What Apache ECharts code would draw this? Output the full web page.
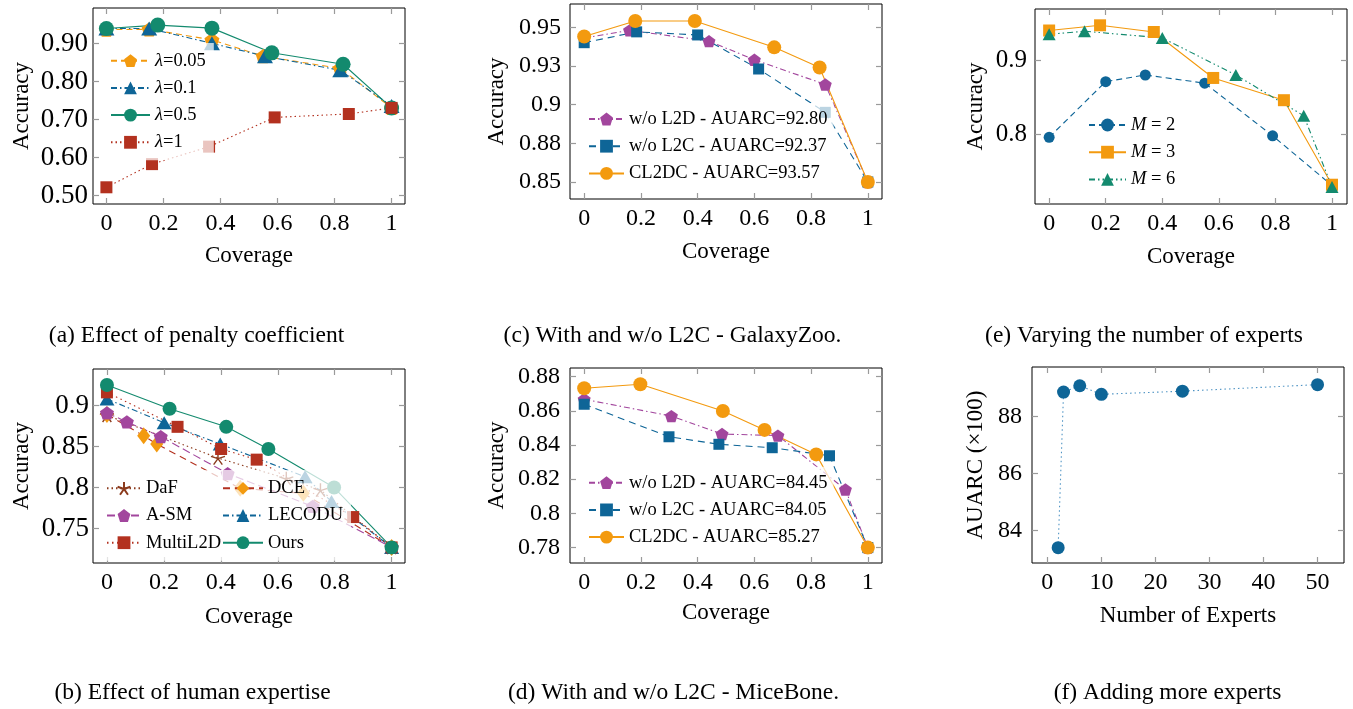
<!DOCTYPE html>
<html>
<head>
<meta charset="utf-8">
<script src="https://cdn.jsdelivr.net/npm/echarts@6/dist/echarts.min.js"></script>
<style>
  html, body { margin: 0; background: #fff; }
  #fig { width: 1353px; height: 709px; }
</style>
</head>
<body>
<div id="fig"></div>
<script>
// ---- data ----
const covTicks = [0, 0.2, 0.4, 0.6, 0.8, 1];

// (a) penalty coefficient
const covLam005 = [0, 0.15, 0.37, 0.55, 0.82, 1];
const accLam005 = [0.937, 0.938, 0.910, 0.867, 0.835, 0.731];
const covLam01 = [0, 0.15, 0.37, 0.556, 0.82, 1];
const accLam01 = [0.940, 0.940, 0.901, 0.867, 0.830, 0.736];
const covLam05 = [0, 0.18, 0.37, 0.58, 0.83, 1];
const accLam05 = [0.940, 0.949, 0.941, 0.876, 0.846, 0.731];
const covLam1 = [0, 0.16, 0.36, 0.59, 0.85, 1];
const accLam1 = [0.522, 0.583, 0.629, 0.706, 0.715, 0.731];
const aYTicks = [0.5, 0.6, 0.7, 0.8, 0.9];
const aYLabels = ['0.50', '0.60', '0.70', '0.80', '0.90'];

// (c) GalaxyZoo
const covGzL2D = [0, 0.16, 0.44, 0.60, 0.85, 1];
const accGzL2D = [0.943, 0.948, 0.941, 0.929, 0.913, 0.850];
const covGzL2C = [0, 0.185, 0.40, 0.615, 0.85, 1];
const accGzL2C = [0.940, 0.947, 0.945, 0.923, 0.895, 0.850];
const covGzOurs = [0, 0.18, 0.39, 0.67, 0.83, 1];
const accGzOurs = [0.944, 0.954, 0.954, 0.937, 0.924, 0.850];
const cYTicks = [0.85, 0.875, 0.9, 0.925, 0.95];
const cYLabels = ['0.85', '0.88', '0.9', '0.93', '0.95'];

// (e) number of experts M
const covM2 = [0, 0.2, 0.34, 0.55, 0.79, 1];
const accM2 = [0.796, 0.871, 0.880, 0.869, 0.798, 0.731];
const covM3 = [0, 0.18, 0.37, 0.58, 0.83, 1];
const accM3 = [0.940, 0.947, 0.938, 0.876, 0.846, 0.732];
const covM6 = [0, 0.125, 0.40, 0.66, 0.90, 1];
const accM6 = [0.935, 0.939, 0.930, 0.880, 0.825, 0.729];
const eYTicks = [0.8, 0.9];
const eYLabels = ['0.8', '0.9'];

// (b) human expertise
const covDaF = [0, 0.39, 0.63, 0.75, 1];
const accDaF = [0.888, 0.836, 0.811, 0.797, 0.727];
const covDCE = [0, 0.129, 0.175, 0.468, 0.69, 1];
const accDCE = [0.889, 0.863, 0.853, 0.799, 0.793, 0.727];
const covASM = [0, 0.07, 0.189, 0.424, 0.723, 1];
const accASM = [0.891, 0.880, 0.862, 0.817, 0.777, 0.727];
const covLECODU = [0, 0.201, 0.398, 0.696, 0.789, 1];
const accLECODU = [0.908, 0.879, 0.853, 0.813, 0.783, 0.727];
const covMultiL2D = [0, 0.248, 0.401, 0.526, 0.865, 1];
const accMultiL2D = [0.916, 0.874, 0.847, 0.834, 0.764, 0.727];
const covOurs = [0, 0.22, 0.419, 0.567, 0.798, 1];
const accOurs = [0.925, 0.896, 0.874, 0.847, 0.800, 0.727];
const bYTicks = [0.75, 0.8, 0.85, 0.9];
const bYLabels = ['0.75', '0.8', '0.85', '0.9'];

// (d) MiceBone
const covMbL2D = [0, 0.3075, 0.486, 0.683, 0.921, 1];
const accMbL2D = [0.8667, 0.8569, 0.8464, 0.8455, 0.814, 0.780];
const covMbL2C = [0, 0.299, 0.475, 0.663, 0.865, 1];
const accMbL2C = [0.8638, 0.8448, 0.8404, 0.8384, 0.8337, 0.780];
const covMbOurs = [0, 0.198, 0.489, 0.636, 0.818, 1];
const accMbOurs = [0.8732, 0.8755, 0.8599, 0.8488, 0.8345, 0.780];
const dYTicks = [0.78, 0.8, 0.82, 0.84, 0.86, 0.88];
const dYLabels = ['0.78', '0.8', '0.82', '0.84', '0.86', '0.88'];

// (f) adding more experts
const numExperts = [2, 3, 6, 10, 25, 50];
const auarcExperts = [83.39, 88.86, 89.08, 88.78, 88.89, 89.12];
const fXTicks = [0, 10, 20, 30, 40, 50];
const fYTicks = [84, 86, 88];
const fYLabels = ['84', '86', '88'];

// ---- styling ----
const SERIF = '"Liberation Serif", "Times New Roman", serif';
const ORANGE = '#f39a0f', BLUE = '#0e6597', GREEN = '#138a6e',
      PURPLE = '#a2469d', RED = '#b3311f', BROWN = '#8b3a1c';
const PENTAGON = 'path://M0,-10L9.51,-3.09L5.88,8.09L-5.88,8.09L-9.51,-3.09Z';
const ASTER = 'path://M0,-10L0,0M9.5,-3.1L0,0M5.9,8.1L0,0M-5.9,8.1L0,0M-9.5,-3.1L0,0';
const DASHED = [6, 4], DASHDOT = [6, 3, 1.5, 3], DDOT = [6, 3, 1.5, 3, 1.5, 3], DOTTED = [1.5, 3];
const FADE = 'rgba(255,255,255,0.72)';

const grids = [], xAxes = [], yAxes = [], series = [], legends = [], graphics = [];

function addPanel(p) {
  const gi = grids.length;
  grids.push({ left: p.box[0], top: p.box[1], width: p.box[2], height: p.box[3],
    outerBoundsMode: 'none', containLabel: false,
    show: true, borderColor: '#000', borderWidth: 1, backgroundColor: 'transparent' });
  const tick = { show: true, inside: true, length: 6, lineStyle: { color: '#9a9a9a', width: 1.2 } };
  const xi = xAxes.length, yi = yAxes.length;
  // onZero off: every axis stays on its own edge of the box
  const xb = { type: 'value', gridIndex: gi, min: p.xr[0], max: p.xr[1],
    axisLine: { show: false, onZero: false }, splitLine: { show: false } };
  const yb = { type: 'value', gridIndex: gi, min: p.yr[0], max: p.yr[1],
    axisLine: { show: false, onZero: false }, splitLine: { show: false } };
  const lab = { fontFamily: SERIF, color: '#000' };
  const ghost = { fontSize: 6, color: 'rgba(0,0,0,0)' };
  const nm = { fontFamily: SERIF, fontSize: 23, color: '#000' };
  xAxes.push({ ...xb, position: 'bottom', name: p.xName, nameLocation: 'middle', nameGap: p.xGap,
    nameTextStyle: nm, axisTick: { ...tick, customValues: p.xTicks },
    axisLabel: { ...lab, fontSize: 24, customValues: p.xTicks, margin: 8, formatter: v => String(v) } });
  // mirrored axes: only the inside ticks on the top and right edges
  xAxes.push({ ...xb, position: 'top', axisTick: { ...tick, customValues: p.xTicks },
    axisLabel: { ...ghost, customValues: p.xTicks } });
  yAxes.push({ ...yb, position: 'left', name: p.yName, nameLocation: 'middle', nameGap: p.yGap, nameRotate: 90,
    nameTextStyle: nm, axisTick: { ...tick, customValues: p.yTicks },
    axisLabel: { ...lab, fontSize: p.yFont, customValues: p.yTicks, margin: p.yMargin,
      formatter: v => p.yLabels[p.yTicks.findIndex(t => Math.abs(t - v) < 1e-9)] } });
  yAxes.push({ ...yb, position: 'right', axisTick: { ...tick, customValues: p.yTicks },
    axisLabel: { ...ghost, customValues: p.yTicks } });
  return { x: xi, y: yi };
}

function addLine(ax, name, xs, ys, o) {
  series.push({
    type: 'line', name, xAxisIndex: ax.x, yAxisIndex: ax.y,
    data: xs.map((x, i) => [x, ys[i]]),
    symbol: o.symbol, symbolSize: o.size, symbolKeepAspect: true,
    lineStyle: { color: o.line || o.color, width: 1.1, type: o.dash || 'solid' },
    itemStyle: o.stroke
      ? { color: 'transparent', borderColor: o.color, borderWidth: 1.4 }
      : { color: o.color },
    animation: false, silent: true
  });
}

// legend box (left/top) includes padding; its white fill fades marks behind it
function addLegend(names, left, top, padding, itemWidth, fmt) {
  legends.push({ data: names, orient: 'vertical', left, top, itemWidth, itemHeight: 16,
    itemGap: 7.2, padding, selectedMode: false, backgroundColor: FADE,
    textStyle: { fontFamily: SERIF, fontSize: 18.5, color: '#000', lineHeight: 20,
      rich: { i: { fontFamily: SERIF, fontSize: 18.5, fontStyle: 'italic', color: '#000' } } },
    formatter: fmt });
}

function caption(text, x, y) {
  graphics.push({ type: 'text', z: 5, x, y,
    style: { text, fill: '#000', font: '23.5px ' + SERIF, align: 'center', verticalAlign: 'middle' } });
}

// (a)
const pa = addPanel({ box: [93, 8, 312, 196], xr: [-0.047, 1.047], yr: [0.478, 0.994],
  xTicks: covTicks, yTicks: aYTicks, yLabels: aYLabels, xName: 'Coverage', yName: 'Accuracy',
  xGap: 40, yGap: 60, yMargin: 5, yFont: 27 });
addLine(pa, 'λ=0.05', covLam005, accLam005, { color: ORANGE, dash: DASHED, symbol: PENTAGON, size: 15 });
addLine(pa, 'λ=0.1', covLam01, accLam01, { color: BLUE, dash: DASHDOT, symbol: 'triangle', size: [16, 14] });
addLine(pa, 'λ=0.5', covLam05, accLam05, { color: GREEN, symbol: 'circle', size: 15 });
addLine(pa, 'λ=1', covLam1, accLam1, { color: RED, dash: DOTTED, symbol: 'rect', size: 12 });
addLegend(['λ=0.05', 'λ=0.1', 'λ=0.5', 'λ=1'], 104, 43, [7.7, 8, 8, 6], 39, n => '{i|λ}' + n.slice(1));

// (c)
const pc = addPanel({ box: [570, 4, 312, 195], xr: [-0.05, 1.05], yr: [0.839, 0.965],
  xTicks: covTicks, yTicks: cYTicks, yLabels: cYLabels, xName: 'Coverage', yName: 'Accuracy',
  xGap: 41, yGap: 62, yMargin: 9, yFont: 24 });
addLine(pc, 'w/o L2D - AUARC=92.80', covGzL2D, accGzL2D, { color: PURPLE, dash: DASHDOT, symbol: PENTAGON, size: 13 });
addLine(pc, 'w/o L2C - AUARC=92.37', covGzL2C, accGzL2C, { color: BLUE, dash: [7, 5], symbol: 'rect', size: 11 });
addLine(pc, 'CL2DC - AUARC=93.57', covGzOurs, accGzOurs, { color: ORANGE, symbol: 'circle', size: 14 });
addLegend(['w/o L2D - AUARC=92.80', 'w/o L2C - AUARC=92.37', 'CL2DC - AUARC=93.57'], 582, 103, [6, 6, 6, 6], 35);

// (e)
const pe = addPanel({ box: [1035, 9, 312, 195], xr: [-0.05, 1.053], yr: [0.706, 0.969],
  xTicks: covTicks, yTicks: eYTicks, yLabels: eYLabels, xName: 'Coverage', yName: 'Accuracy',
  xGap: 41, yGap: 48, yMargin: 8, yFont: 25 });
addLine(pe, 'M = 2', covM2, accM2, { color: BLUE, dash: DASHED, symbol: 'circle', size: 11 });
addLine(pe, 'M = 3', covM3, accM3, { color: ORANGE, symbol: 'rect', size: 12 });
addLine(pe, 'M = 6', covM6, accM6, { color: GREEN, dash: DDOT, symbol: 'triangle', size: [13, 12] });
addLegend(['M = 2', 'M = 3', 'M = 6'], 1082, 109, [6, 8, 6, 6], 37, n => '{i|M} = ' + n.slice(-1));

// (b)
const pb = addPanel({ box: [93, 369, 312, 194], xr: [-0.049, 1.047], yr: [0.708, 0.9445],
  xTicks: covTicks, yTicks: bYTicks, yLabels: bYLabels, xName: 'Coverage', yName: 'Accuracy',
  xGap: 42, yGap: 60, yMargin: 4, yFont: 27 });
addLine(pb, 'DaF', covDaF, accDaF, { color: BROWN, dash: DOTTED, symbol: ASTER, size: 14, stroke: true });
addLine(pb, 'DCE', covDCE, accDCE, { color: ORANGE, line: RED, dash: [7, 5], symbol: 'diamond', size: [13, 17] });
addLine(pb, 'A-SM', covASM, accASM, { color: PURPLE, dash: [8, 4], symbol: PENTAGON, size: 14 });
addLine(pb, 'LECODU', covLECODU, accLECODU, { color: BLUE, dash: DASHDOT, symbol: 'triangle', size: [15, 13] });
addLine(pb, 'MultiL2D', covMultiL2D, accMultiL2D, { color: RED, dash: [1.5, 3.5], symbol: 'rect', size: 12 });
addLine(pb, 'Ours', covOurs, accOurs, { color: GREEN, symbol: 'circle', size: 14 });
addLegend(['DaF', 'A-SM', 'MultiL2D'], 100, 470, [8.3, 2, 8, 6], 34);
addLegend(['DCE', 'LECODU', 'Ours'], 222, 470, [8.3, 8, 8, 0], 40);

// (d)
const pd = addPanel({ box: [570, 368, 312, 195], xr: [-0.05, 1.05], yr: [0.771, 0.885],
  xTicks: covTicks, yTicks: dYTicks, yLabels: dYLabels, xName: 'Coverage', yName: 'Accuracy',
  xGap: 38, yGap: 62, yMargin: 10, yFont: 24 });
addLine(pd, 'w/o L2D - AUARC=84.45', covMbL2D, accMbL2D, { color: PURPLE, dash: DASHDOT, symbol: PENTAGON, size: 13 });
addLine(pd, 'w/o L2C - AUARC=84.05', covMbL2C, accMbL2C, { color: BLUE, dash: [7, 5], symbol: 'rect', size: 11 });
addLine(pd, 'CL2DC - AUARC=85.27', covMbOurs, accMbOurs, { color: ORANGE, symbol: 'circle', size: 14 });
addLegend(['w/o L2D - AUARC=84.45', 'w/o L2C - AUARC=84.05', 'CL2DC - AUARC=85.27'], 582, 466.7, [6, 6, 6, 6], 35);

// (f)
const pf = addPanel({ box: [1032, 367, 312, 196], xr: [-2.84, 54.9], yr: [82.85, 89.74],
  xTicks: fXTicks, yTicks: fYTicks, yLabels: fYLabels, xName: 'Number of Experts', yName: 'AUARC (×100)',
  xGap: 41, yGap: 45, yMargin: 10, yFont: 24 });
addLine(pf, 'experts', numExperts, auarcExperts, { color: BLUE, line: '#4f94c4', dash: DOTTED, symbol: 'circle', size: 13 });

caption('(a) Effect of penalty coefficient', 196.5, 336);
caption('(c) With and w/o L2C - GalaxyZoo.', 672.5, 336);
caption('(e) Varying the number of experts', 1144, 336);
caption('(b) Effect of human expertise', 192.5, 693);
caption('(d) With and w/o L2C - MiceBone.', 673.5, 693);
caption('(f) Adding more experts', 1167.5, 693);

const chart = echarts.init(document.getElementById('fig'), null, { renderer: 'canvas' });
chart.setOption({
  backgroundColor: '#fff',
  animation: false,
  grid: grids,
  xAxis: xAxes,
  yAxis: yAxes,
  legend: legends,
  series: series,
  graphic: { elements: graphics }
});
</script>
</body>
</html>
